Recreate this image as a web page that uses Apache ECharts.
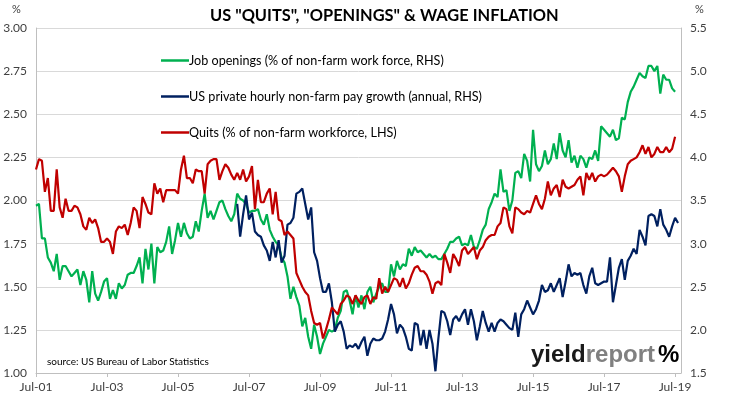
<!DOCTYPE html>
<html>
<head>
<meta charset="utf-8">
<script src="https://cdn.jsdelivr.net/npm/echarts@6/dist/echarts.min.js"></script>
<style>
  html, body { margin: 0; padding: 0; background: #fff; }
  #chart { width: 731px; height: 398px; }
</style>
</head>
<body>
<div id="chart"></div>
<script>
// monthly, Jul-01 .. Sep-19 (axis runs two months past the last JOLTS print)
const monthNames = ['Jan', 'Feb', 'Mar', 'Apr', 'May', 'Jun', 'Jul', 'Aug', 'Sep', 'Oct', 'Nov', 'Dec']
const categories = []
for (let i = 0; i < 219; i++) {
  const k = 6 + i
  categories.push(monthNames[k % 12] + '-' + String(1 + Math.floor(k / 12)).padStart(2, '0'))
}

// job openings, % of non-farm workforce (RHS), Jul-01 .. Jul-19
const openings = [
  3.44, 3.46, 3.06, 3.06, 2.84, 2.78, 2.68, 2.88, 2.58, 2.74, 2.74, 2.68, 2.62, 2.66, 2.70, 2.52, 2.68, 2.58, 2.32, 2.68,
  2.42, 2.34, 2.44, 2.56, 2.60, 2.36, 2.46, 2.36, 2.54, 2.48, 2.52, 2.64, 2.66, 2.66, 2.74, 2.84, 2.54, 2.94,
  2.70, 3.00, 2.54, 2.96, 2.90, 2.92, 3.02, 3.20, 2.88, 3.04, 3.24, 3.08, 3.24, 3.12, 3.06, 3.08, 3.26, 3.14, 3.38, 3.58,
  3.30, 3.38, 3.28, 3.38, 3.48, 3.50, 3.40, 3.32, 3.26, 3.34, 3.58, 3.52, 3.50, 3.46, 3.36, 3.38,
  3.38, 3.40, 3.28, 3.22, 3.34, 3.16, 3.08, 3.02, 2.98, 2.84, 2.78, 2.62, 2.36, 2.50, 2.38, 2.28, 2.04, 2.14, 1.92, 1.78,
  2.06, 1.92, 1.72, 1.84, 1.92, 2.00, 1.98, 2.00, 2.14, 2.22,
  2.44, 2.46, 2.34, 2.18, 2.40, 2.26, 2.40, 2.24, 2.44, 2.50, 2.32, 2.42, 2.50, 2.54, 2.44, 2.44, 2.76, 2.62, 2.80, 2.70,
  2.76, 2.74, 2.94, 2.86, 2.96, 2.90, 2.92, 2.88, 2.84, 2.88,
  2.84, 2.86, 2.82, 2.82, 2.88, 2.94, 3.02, 3.02, 3.06, 3.08, 2.98, 3.00, 2.98, 3.10, 2.96, 2.94, 3.04, 3.16, 3.22, 3.40,
  3.48, 3.58, 3.54, 3.86, 3.60, 3.62, 3.38, 3.50, 3.82,
  3.84, 3.76, 4.04, 3.96, 3.72, 4.32, 3.92, 3.84, 3.90, 4.08, 3.92, 3.98, 4.16, 3.98, 4.28, 4.08, 4.00, 4.20, 3.94, 4.02,
  3.88, 4.02, 3.98, 3.88, 4.00, 3.98, 4.08, 3.96, 4.36,
  4.32, 4.28, 4.24, 4.32, 4.20, 4.22, 4.46, 4.44, 4.64, 4.76, 4.82, 4.90, 4.98, 4.94, 4.92, 5.06, 5.06, 5.00, 5.06, 4.74,
  4.96, 4.90, 4.90, 4.80, 4.76
]

// quits, % of non-farm workforce (LHS), Jul-01 .. Jul-19
const quits = [
  2.18, 2.24, 2.23, 2.05, 2.13, 1.94, 1.94, 2.18, 1.96, 1.90, 2.01, 1.94, 1.94, 1.97, 1.96, 1.92, 1.85, 1.83, 1.90, 1.87,
  1.89, 1.84, 1.76, 1.76, 1.78, 1.76, 1.69, 1.82, 1.85, 1.84, 1.86, 1.80, 1.87, 1.96, 1.94, 1.84, 2.02, 1.98,
  1.93, 1.92, 2.10, 2.04, 2.07, 1.99, 2.06, 2.06, 2.06, 2.06, 2.04, 2.18, 2.26,
  2.13, 2.13, 2.10, 2.18, 2.17, 2.17, 2.04, 2.21, 2.23, 2.24, 2.24, 2.12, 2.17, 2.21, 2.19, 2.15, 2.12, 2.16, 2.12,
  2.18, 2.11, 2.14, 2.20,
  1.95, 2.12, 1.99, 1.99, 2.04, 2.07, 1.92, 2.05, 1.89, 1.88, 1.80, 1.82, 1.80, 1.78, 1.58, 1.54, 1.50, 1.47, 1.45, 1.36,
  1.29, 1.28, 1.29, 1.20, 1.25, 1.31, 1.38, 1.36, 1.34, 1.40, 1.42,
  1.45, 1.44, 1.40, 1.45, 1.42, 1.40, 1.44, 1.45, 1.40, 1.44, 1.43, 1.55, 1.46, 1.50, 1.47, 1.51, 1.55, 1.54, 1.50, 1.55,
  1.49, 1.52, 1.57, 1.61, 1.62, 1.59, 1.59, 1.57, 1.53,
  1.46, 1.52, 1.53, 1.51, 1.69, 1.64, 1.58, 1.69, 1.66, 1.62, 1.71, 1.73, 1.69, 1.71, 1.73, 1.66, 1.71, 1.73, 1.77, 1.79,
  1.80, 1.80, 1.85, 1.87, 1.96, 1.95, 1.85, 1.81, 1.96,
  1.95, 1.93, 1.92, 1.94, 1.93, 1.98, 2.03, 1.98, 1.95, 2.01, 2.11, 2.03, 2.07, 2.09, 2.02, 2.12, 2.08, 2.07, 2.08, 2.09,
  2.12, 2.14, 2.03, 2.16, 2.12, 2.16, 2.11, 2.14, 2.15,
  2.14, 2.15, 2.17, 2.19, 2.17, 2.14, 2.05, 2.14, 2.21, 2.23, 2.24, 2.25, 2.28, 2.32, 2.27, 2.31, 2.25, 2.27, 2.31, 2.28,
  2.28, 2.31, 2.28, 2.30, 2.37
]

// private hourly pay growth, % y/y (RHS), Mar-07 .. Aug-19
const wageStart = 'Mar-07'
const wageGrowth = [
  3.46, 3.08, 3.34, 3.56, 3.28, 3.36, 3.14, 3.10, 3.08, 2.98,
  2.92, 2.80, 3.02, 2.84, 3.04, 2.78, 2.86, 3.22, 3.24, 3.30,
  3.58, 3.60, 3.64, 3.46, 3.28, 3.42, 2.90, 2.80, 2.60, 2.44,
  2.44, 2.54, 2.32, 1.98, 2.06, 2.10, 1.98, 1.78, 1.82, 1.80,
  1.84, 1.78, 1.86, 1.92, 1.70, 1.84, 1.90, 1.88, 1.88, 1.90,
  1.98, 2.12, 2.30, 2.18, 1.96, 2.06, 2.02, 1.92, 1.78, 1.76,
  2.08, 2.06, 1.82, 2.00, 1.78, 2.00, 1.84, 1.52, 1.90, 2.22,
  2.20, 2.10, 1.94, 2.12, 2.16, 2.10, 2.18, 2.24, 2.06, 2.24,
  2.10, 1.88, 2.04, 2.22, 2.08, 1.98, 2.08, 1.98, 2.08, 2.12,
  2.10, 2.06, 2.02, 2.00, 2.20, 1.92, 2.18, 2.24, 2.34, 2.26,
  2.18, 2.24, 2.34, 2.52, 2.44, 2.46, 2.54, 2.44, 2.52, 2.60,
  2.38, 2.56, 2.76, 2.62, 2.66, 2.64, 2.66, 2.52, 2.42, 2.62,
  2.72, 2.54, 2.52, 2.54, 2.56, 2.56, 2.84, 2.32, 2.52, 2.72,
  2.82, 2.58, 2.80, 2.86, 2.94, 2.88, 3.16, 3.08, 2.98, 3.32,
  3.34, 3.32, 3.20, 3.40, 3.22, 3.16, 3.08, 3.20, 3.30, 3.24
]

const seriesNames = [
  'Job openings (% of non-farm work force, RHS)',
  'US private hourly non-farm pay growth (annual, RHS)',
  'Quits (% of non-farm workforce, LHS)'
]
const colors = ['#00b050', '#002060', '#c00000']

const font = 'Lato, "Open Sans", sans-serif'
const logoFont = 'bold 24px "Liberation Sans Narrow", sans-serif'
const gridGrey = '#d9d9d9'
const axisGrey = '#bfbfbf'

const wageData = new Array(categories.indexOf(wageStart)).fill(null).concat(wageGrowth)

const chart = echarts.init(document.getElementById('chart'), null, { renderer: 'canvas' })

chart.setOption({
  animation: false,
  backgroundColor: '#fff',
  title: {
    text: 'US "QUITS", "OPENINGS" & WAGE INFLATION',
    left: 205,
    top: 3,
    textStyle: { fontFamily: font, fontSize: 16.4, fontWeight: 'bold', color: '#000' }
  },
  legend: {
    orient: 'vertical',
    left: 156,
    top: 49,
    itemGap: 23,
    itemWidth: 28,
    itemHeight: 2.5,
    icon: 'rect',
    data: seriesNames,
    textStyle: { fontFamily: font, fontSize: 12.6, color: '#000', padding: [0, 0, 0, -5] }
  },
  grid: { left: 36, right: 50, top: 28, bottom: 25, containLabel: false },
  xAxis: {
    type: 'category',
    data: categories,
    boundaryGap: false,
    axisLine: { lineStyle: { color: axisGrey } },
    axisTick: { interval: 23, length: 4, lineStyle: { color: axisGrey } },
    axisLabel: { interval: 23, margin: 8, fontFamily: font, fontSize: 12, color: '#404040' },
    splitLine: { show: false }
  },
  yAxis: [
    {
      type: 'value',
      min: 1,
      max: 3,
      interval: 0.25,
      axisLine: { show: true, lineStyle: { color: axisGrey } },
      axisTick: { show: false },
      axisLabel: { margin: 9, fontFamily: font, fontSize: 12, color: '#404040', formatter: v => v.toFixed(2) },
      splitLine: { lineStyle: { color: gridGrey } }
    },
    {
      type: 'value',
      min: 1.5,
      max: 5.5,
      interval: 0.5,
      axisLine: { show: true, lineStyle: { color: axisGrey } },
      axisTick: { show: false },
      axisLabel: { margin: 9, fontFamily: font, fontSize: 12, color: '#404040', formatter: v => v.toFixed(1) },
      splitLine: { show: false }
    }
  ],
  series: [
    { name: seriesNames[0], type: 'line', yAxisIndex: 1, data: openings, color: colors[0] },
    { name: seriesNames[1], type: 'line', yAxisIndex: 1, data: wageData, color: colors[1] },
    { name: seriesNames[2], type: 'line', yAxisIndex: 0, data: quits, color: colors[2] }
  ].map(s => ({ ...s, showSymbol: false, symbol: 'none', lineStyle: { width: 2.2, color: s.color }, z: 3 })),
  graphic: [
    { type: 'text', left: 12, top: 4, style: { text: '%', font: '11px ' + font, fill: '#404040' } },
    { type: 'text', left: 695, top: 4, style: { text: '%', font: '11px ' + font, fill: '#404040' } },
    {
      type: 'text', left: 47, top: 357,
      style: { text: 'source: US Bureau of Labor Statistics', font: '10px ' + font, fill: '#000' }
    },
    {
      type: 'text', left: 531, top: 343,
      style: {
        text: '{a|yield}{b|report}{c|%}',
        rich: {
          a: { font: logoFont, fill: '#1a1a1a' },
          b: { font: logoFont, fill: '#808080' },
          c: {
            font: logoFont,
            padding: [0, 0, 0, 3],
            fill: new echarts.graphic.LinearGradient(0, 0, 1, 1, [
              { offset: 0, color: '#1f7a3a' }, { offset: 0.5, color: '#555' }, { offset: 1, color: '#c00000' }
            ])
          }
        }
      }
    }
  ]
})

window.addEventListener('resize', () => chart.resize())
</script>
</body>
</html>
